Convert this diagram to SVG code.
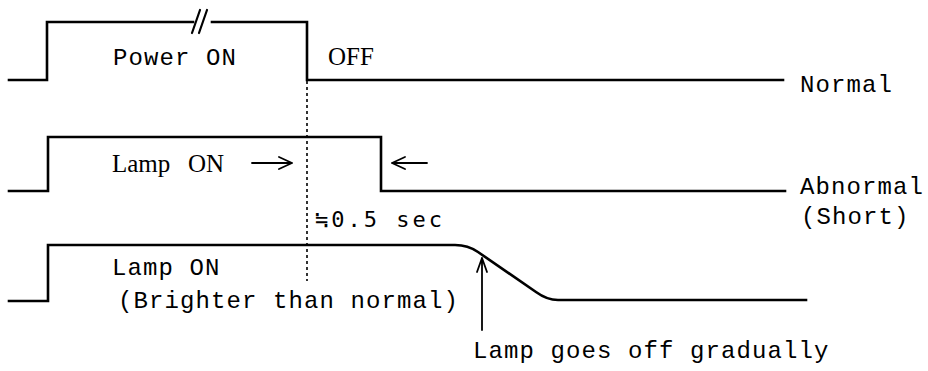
<svg xmlns="http://www.w3.org/2000/svg" width="928" height="371" viewBox="0 0 928 371">
<style>
.sig{fill:none;stroke:#000;stroke-width:2.6;stroke-linejoin:miter;stroke-linecap:square}
.thin{fill:none;stroke:#000;stroke-width:1.8;stroke-linecap:round;stroke-linejoin:round}
.dot{fill:none;stroke:#000;stroke-width:1.6;stroke-dasharray:3 3}
.mono{font-family:"Liberation Mono","Courier New",monospace;font-size:24px;letter-spacing:1.1px;fill:#000}
.serif{font-family:"Liberation Serif","Times New Roman",serif;font-size:25px;fill:#000}
.sec{font-family:"DejaVu Sans Mono","Liberation Mono",monospace;font-size:22px;letter-spacing:3px;fill:#000}
</style>
<rect width="928" height="371" fill="#fff"/>
<g id="connectors">
<line id="sync-line" class="dot" x1="307" y1="81" x2="307" y2="281"/>
<path id="arrow-lamp-on" class="thin" d="M252,163 H292 M279,157 L292,163 L279,169"/>
<path id="arrow-back" class="thin" d="M427,163 H392 M405,157 L392,163 L405,169"/>
<path id="arrow-gradual" class="thin" d="M482,330 V258 M477,272 L482,258 L487,272"/>
</g>
<g id="signal-normal">
<path class="sig" d="M9,80 H47 V22 H193 M212,22 H307 V80 H783"/>
<path class="thin" d="M192,33 L200,10 M199,33 L207,10" style="stroke-width:2.2"/>
<text class="mono" x="113" y="65">Power ON</text>
<text class="serif" x="328" y="65" font-size="24">OFF</text>
<text class="mono" x="800" y="92">Normal</text>
</g>
<g id="signal-abnormal">
<path class="sig" d="M9,191 H48 V137 H381 V191 H785"/>
<text class="serif" x="112" y="172">Lamp</text>
<text class="serif" x="188" y="172">ON</text>
<text class="mono" x="800" y="194">Abnormal</text>
<text class="mono" x="801" y="224">(Short)</text>
</g>
<g id="time-label">
<text class="sec" x="315" y="227">≒0.5 sec</text>
</g>
<g id="signal-bright">
<path class="sig" d="M9,301 H48 V245 H455 Q468,245 478,252 L536,292 Q547,300 558,300 H806"/>
<text class="mono" x="112" y="275">Lamp ON</text>
<text class="mono" x="118" y="308">(Brighter than normal)</text>
<text class="mono" x="473" y="358">Lamp goes off gradually</text>
</g>
</svg>
